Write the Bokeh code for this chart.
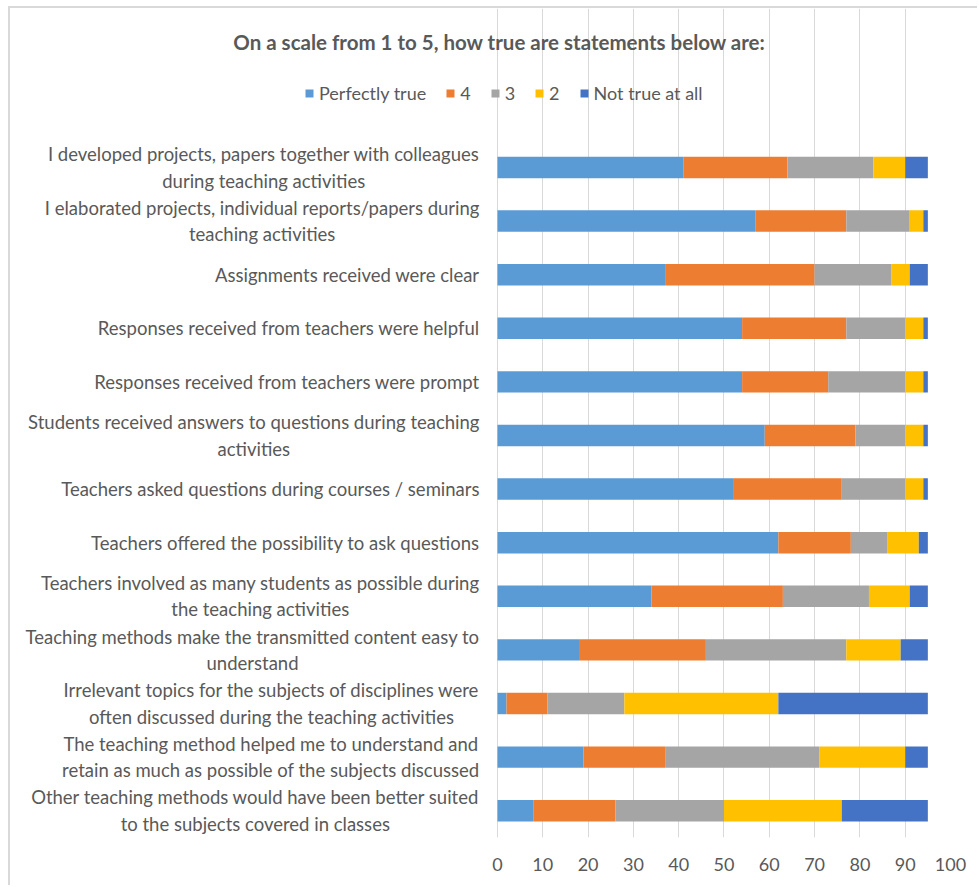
from bokeh.plotting import figure
from bokeh.models import (Label, Legend, LegendItem, Range1d,
                          ColumnDataSource, FixedTicker)
from bokeh.core.properties import value
from bokeh.embed import file_html
from bokeh.resources import INLINE

categories = [
    "I developed projects, papers together with colleagues\nduring teaching activities",
    "I elaborated projects, individual reports/papers during\nteaching activities",
    "Assignments received were clear",
    "Responses received from teachers were helpful",
    "Responses received from teachers were prompt",
    "Students received answers to questions during teaching\nactivities",
    "Teachers asked questions during courses / seminars",
    "Teachers offered the possibility to ask questions",
    "Teachers involved as many students as possible during\nthe teaching activities",
    "Teaching methods make the transmitted content easy to\nunderstand",
    "Irrelevant topics for the subjects of disciplines were\noften discussed during the teaching activities",
    "The teaching method helped me to understand and\nretain as much as possible of the subjects discussed",
    "Other teaching methods would have been better suited\nto the subjects covered in classes",
]
perfectly_true = [41, 57, 37, 54, 54, 59, 52, 62, 34, 18, 2, 19, 8]
score_4 = [23, 20, 33, 23, 19, 20, 24, 16, 29, 28, 9, 18, 18]
score_3 = [19, 14, 17, 13, 17, 11, 14, 8, 19, 31, 17, 34, 24]
score_2 = [7, 3, 4, 4, 4, 4, 4, 7, 9, 12, 34, 19, 26]
not_true = [5, 1, 4, 1, 1, 1, 1, 2, 4, 6, 33, 5, 19]
series_names = ["Perfectly true", "4", "3", "2", "Not true at all"]
x_ticks = [0, 10, 20, 30, 40, 50, 60, 70, 80, 90, 100]
title_text = "On a scale from 1 to 5, how true are statements below are:"

colors = ["#5B9BD5", "#ED7D31", "#A5A5A5", "#FFC000", "#4472C4"]
FONT = "Lato"
TXT = "#595959"

n = len(categories)
# first category at the top: position = reversed index
ypos = [n - 1 - i for i in range(n)]

source = ColumnDataSource(dict(
    y=ypos, cat=categories,
    s0=perfectly_true, s1=score_4, s2=score_3, s3=score_2, s4=not_true,
))

p = figure(width=969, height=879,
           x_range=Range1d(-107.5, 100),
           y_range=Range1d(-0.5, 14.966),
           y_axis_location=None,
           output_backend="svg", toolbar_location=None,
           min_border_left=0, min_border_right=29,
           min_border_top=0, min_border_bottom=50)

p.styles = {"margin-left": "8px", "margin-top": "6px",
            "border-left": "2px solid #d9d9d9", "border-top": "2px solid #d9d9d9"}

renderers = p.hbar_stack(["s0", "s1", "s2", "s3", "s4"], y="y", height=0.4,
                         color=colors, line_color=None, source=source)

p.outline_line_color = None
p.ygrid.grid_line_color = None
p.xgrid.grid_line_color = "#D9D9D9"
p.xgrid.grid_line_width = 1
p.xgrid.bounds = (0, 100)
p.xaxis.ticker = FixedTicker(ticks=x_ticks)
p.xaxis.axis_line_color = None
p.xaxis.major_tick_line_color = None
p.xaxis.minor_tick_line_color = None
p.xaxis.major_tick_out = 0
p.xaxis.major_tick_in = 0
p.xaxis.major_label_standoff = 20
p.xaxis.major_label_text_font = FONT
p.xaxis.major_label_text_font_size = "18px"
p.xaxis.major_label_text_color = TXT

# category labels, block right-aligned next to the bars, lines centred
p.text(x=0, y="y", text="cat", source=source, x_offset=-18,
       text_align="center", anchor="center_right", text_baseline="middle",
       text_font=value(FONT), text_font_size="18.5px",
       text_color=TXT, text_line_height=1.2)

p.add_layout(Label(x=0, y=14.35, x_offset=2,
                   text=title_text, text_align="center", text_baseline="middle",
                   text_font=FONT, text_font_size="20.5px", text_font_style="bold",
                   text_color=TXT))

legend = Legend(items=[LegendItem(label=s, renderers=[r])
                       for s, r in zip(series_names, renderers)],
                orientation="horizontal", location=(294, 733),
                glyph_width=10, glyph_height=10, label_standoff=5, spacing=19,
                label_width=0,
                padding=0, margin=0, border_line_color=None,
                background_fill_alpha=0,
                label_text_font=FONT, label_text_font_size="18px",
                label_text_color=TXT)
p.add_layout(legend)

open("out.html", "w").write(file_html(p, INLINE))
